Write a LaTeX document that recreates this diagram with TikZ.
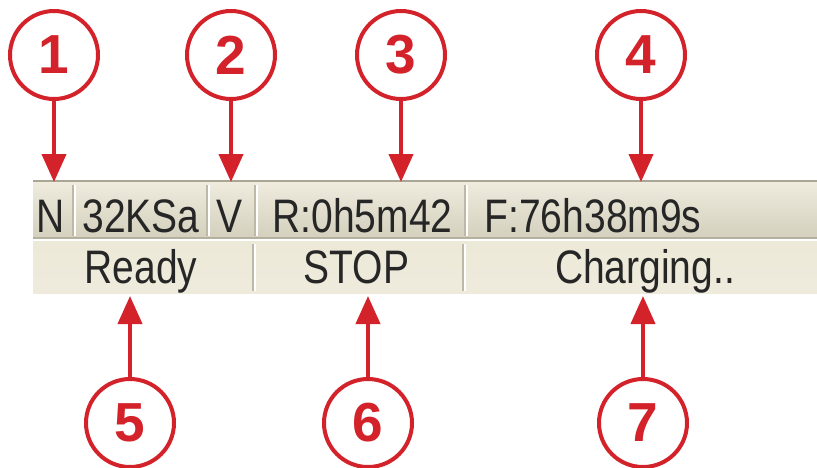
\documentclass[tikz,border=0pt]{standalone}
\usepackage{fontspec}
\usetikzlibrary{arrows.meta}
\newfontfamily\barfont[FakeStretch=0.83]{Liberation Sans}
\newfontfamily\numfont{Liberation Sans}
\definecolor{callred}{HTML}{D3222A}
\definecolor{barlight}{HTML}{EFECDF}
\definecolor{bardark}{HTML}{D4D0BD}
\definecolor{barmid}{HTML}{ECE9D8}
\definecolor{divgray}{HTML}{BDB9A6}
\definecolor{edgegray}{HTML}{A9A696}
\tikzset{
  callout/.style={circle, draw=callred, line width=4pt, minimum size=88pt, inner sep=0pt,
    text=callred, font=\numfont\bfseries\fontsize{55}{55}\selectfont},
  callarrow/.style={draw=callred, line width=4pt, -{Triangle[width=24pt,length=28pt]}, callred},
  bartext/.style={anchor=base, inner sep=0pt, text=black!85, font=\barfont\fontsize{47}{47}\selectfont},
  divider/.style={draw=divgray, line width=1.6pt},
  dividerhi/.style={draw=white, line width=1.6pt}
}
\begin{document}
\begin{tikzpicture}[x=1pt,y=-1pt]
\useasboundingbox (0,0) rectangle (817,467);
\fill[white] (0,0) rectangle (817,467);
% status bar rows
\shade[top color=barlight, bottom color=bardark] (33,181) rectangle (817,238);
\shade[top color=barmid, bottom color=barlight!70!barmid] (33,240) rectangle (817,293);
\draw[edgegray, line width=1.5pt] (33,181) -- (817,181);
\draw[bardark!85!black, line width=1.5pt] (33,238) -- (817,238);
\draw[white, line width=1pt] (33,240) -- (817,240);
% dividers row 1
\foreach \x in {73,207,255,465}{
  \draw[divider] (\x,185) -- (\x,236);
  \draw[dividerhi] (\x+1.8,185) -- (\x+1.8,236);
}
% dividers row 2
\foreach \x in {253,463}{
  \draw[divider] (\x,244) -- (\x,291);
  \draw[dividerhi] (\x+1.8,244) -- (\x+1.8,291);
}
% texts row 1
\node[bartext] (tN) at (50.5,232) {N};
\node[bartext] (tK) at (141,232) {32KSa};
\node[bartext] (tV) at (230,232) {V};
\node[bartext] (tR) at (362.5,232) {R:0h5m42};
\node[bartext] (tF) at (593,232) {F:76h38m9s};
% texts row 2
\node[bartext] (tReady) at (141,283) {Ready};
\node[bartext] (tStop) at (356.5,283) {STOP};
\node[bartext] (tCh) at (645,283) {Charging..};
% callouts top
\node[callout] (c1) at (54,55) {1};
\node[callout] (c2) at (231,55) {2};
\node[callout] (c3) at (401,55) {3};
\node[callout] (c4) at (641,55) {4};
% callouts bottom
\node[callout] (c5) at (130,423) {5};
\node[callout] (c6) at (368,423) {6};
\node[callout] (c7) at (643,423) {7};
% arrow tips
\coordinate (p1) at (54,182);
\coordinate (p2) at (231,182);
\coordinate (p3) at (401,182);
\coordinate (p4) at (641,182);
\coordinate (p5) at (130,296);
\coordinate (p6) at (368,296);
\coordinate (p7) at (643,296);
\draw[callarrow] (c1.south) -- (p1);
\draw[callarrow] (c2.south) -- (p2);
\draw[callarrow] (c3.south) -- (p3);
\draw[callarrow] (c4.south) -- (p4);
\draw[callarrow] (c5.north) -- (p5);
\draw[callarrow] (c6.north) -- (p6);
\draw[callarrow] (c7.north) -- (p7);
\end{tikzpicture}
\end{document}
